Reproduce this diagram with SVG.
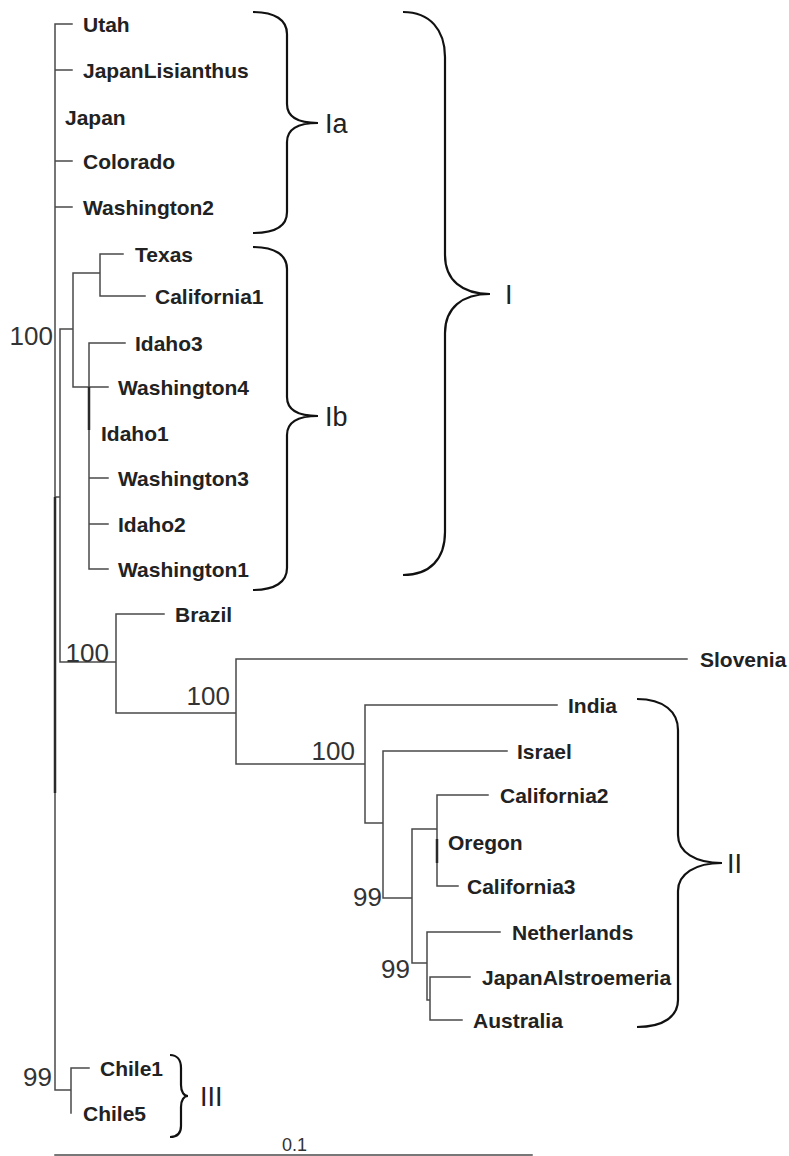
<svg xmlns="http://www.w3.org/2000/svg" width="789" height="1156" viewBox="0 0 789 1156">
<style>
.br{fill:none;stroke:#4a4a4a;stroke-width:1.5;stroke-linecap:square}
.thk{fill:none;stroke:#2a2a2a;stroke-width:2.5}
.lf{font-family:"Liberation Sans",Arial,sans-serif;font-weight:bold;font-size:21px;fill:#222}
.bs{font-family:"Liberation Sans",Arial,sans-serif;font-size:26px;fill:#333;text-anchor:end}
.brace{fill:none;stroke:#111;stroke-width:2.2}
.cl{font-family:"Liberation Sans",Arial,sans-serif;font-size:27px;fill:#222}
.sc{font-family:"Liberation Sans",Arial,sans-serif;font-size:18px;fill:#333}
</style>
<rect width="789" height="1156" fill="#fff"/>
<g id="connectors">
<path class="br" d="M55,24V1090 M55,24H72 M55,70H72 M55,161H72 M55,207H72
M55,497H60 M60,329V662 M60,329H73 M73,273V387 M73,273H100 M100,254V296 M100,254H123 M100,296H145
M73,387H108 M89,343V569 M89,343H125 M89,478H108 M89,524H108 M89,569H108
M60,662H116 M116,614V713 M116,614H164 M116,713H236 M236,659V764 M236,659H687
M236,764H365 M365,705V823 M365,705H557 M365,823H383 M383,751V898 M383,751H507
M383,898H412 M412,829V963 M412,829H437 M437,795V886 M437,795H488 M437,886H458
M412,963H427 M427,932V1000 M427,932H500 M427,1000H430 M430,977V1020 M430,977H470 M430,1020H462
M55,1090H71 M71,1068V1113 M71,1068H89"/>
<path class="thk" d="M55,497V793 M89,387V430 M437,839V863"/>
</g>
<g id="leaf-Utah"><text class="lf" x="83" y="31.5">Utah</text></g>
<g id="leaf-JapanLisianthus"><text class="lf" x="83" y="77.5">JapanLisianthus</text></g>
<g id="leaf-Japan"><text class="lf" x="65" y="124.5">Japan</text></g>
<g id="leaf-Colorado"><text class="lf" x="83" y="168.5">Colorado</text></g>
<g id="leaf-Washington2"><text class="lf" x="83" y="214.5">Washington2</text></g>
<g id="leaf-Texas"><text class="lf" x="135" y="261.5">Texas</text></g>
<g id="leaf-California1"><text class="lf" x="155" y="303.5">California1</text></g>
<g id="leaf-Idaho3"><text class="lf" x="135" y="350.5">Idaho3</text></g>
<g id="leaf-Washington4"><text class="lf" x="118" y="394.5">Washington4</text></g>
<g id="leaf-Idaho1"><text class="lf" x="101" y="440.5">Idaho1</text></g>
<g id="leaf-Washington3"><text class="lf" x="118" y="485.5">Washington3</text></g>
<g id="leaf-Idaho2"><text class="lf" x="118" y="531.5">Idaho2</text></g>
<g id="leaf-Washington1"><text class="lf" x="118" y="576.5">Washington1</text></g>
<g id="leaf-Brazil"><text class="lf" x="175" y="621.5">Brazil</text></g>
<g id="leaf-Slovenia"><text class="lf" x="700" y="666.5">Slovenia</text></g>
<g id="leaf-India"><text class="lf" x="568" y="712.5">India</text></g>
<g id="leaf-Israel"><text class="lf" x="517" y="758.5">Israel</text></g>
<g id="leaf-California2"><text class="lf" x="500" y="802.5">California2</text></g>
<g id="leaf-Oregon"><text class="lf" x="448" y="849.5">Oregon</text></g>
<g id="leaf-California3"><text class="lf" x="467" y="893.5">California3</text></g>
<g id="leaf-Netherlands"><text class="lf" x="512" y="939.5">Netherlands</text></g>
<g id="leaf-JapanAlstroemeria"><text class="lf" x="482" y="984.5">JapanAlstroemeria</text></g>
<g id="leaf-Australia"><text class="lf" x="473" y="1027.5">Australia</text></g>
<g id="leaf-Chile1"><text class="lf" x="100" y="1075.5">Chile1</text></g>
<g id="leaf-Chile5"><text class="lf" x="83" y="1120.5">Chile5</text></g>
<g id="bootstrap">
<text class="bs" x="53" y="345">100</text>
<text class="bs" x="109" y="662">100</text>
<text class="bs" x="230" y="705">100</text>
<text class="bs" x="355" y="760">100</text>
<text class="bs" x="382" y="906">99</text>
<text class="bs" x="410" y="978">99</text>
<text class="bs" x="52" y="1086">99</text>
</g>
<g id="clade-Ia">
<path class="brace" d="M253,12 C275,12 287,20 287,34 L287,104 C287,116 297,123 318,123 C297,123 287,130 287,142 L287,212 C287,226 275,233 253,233"/>
<text class="cl" x="325" y="132.5">Ia</text>
</g>
<g id="clade-Ib">
<path class="brace" d="M253,247 C275,247 287,255 287,269 L287,397 C287,409 297,416 318,416 C297,416 287,423 287,435 L287,568 C287,582 275,590 253,590"/>
<text class="cl" x="325" y="425.5">Ib</text>
</g>
<g id="clade-I">
<path class="brace" d="M403,12 C430,12 445,30 445,57 L445,255 C445,280 462,294 490,294 C462,294 445,308 445,333 L445,532 C445,559 430,575 403,575"/>
<text class="cl" x="505" y="303.5">I</text>
</g>
<g id="clade-II">
<path class="brace" d="M637,699 C664,699 678,712 678,730 L678,835 C678,852 695,863 722,863 C695,863 678,874 678,891 L678,1000 C678,1016 664,1027 637,1027"/>
<text class="cl" x="727" y="872.5">II</text>
</g>
<g id="clade-III">
<path class="brace" d="M170,1055 C177,1055 181,1060 181,1068 L181,1085 C181,1092 184,1096 188,1096 C184,1096 181,1100 181,1107 L181,1126 C181,1133 177,1137 170,1137"/>
<text class="cl" x="200" y="1105.5">III</text>
</g>
<g id="scale-bar">
<path class="br" d="M55,1155H532"/>
<text class="sc" x="282" y="1151">0.1</text>
</g>
</svg>
